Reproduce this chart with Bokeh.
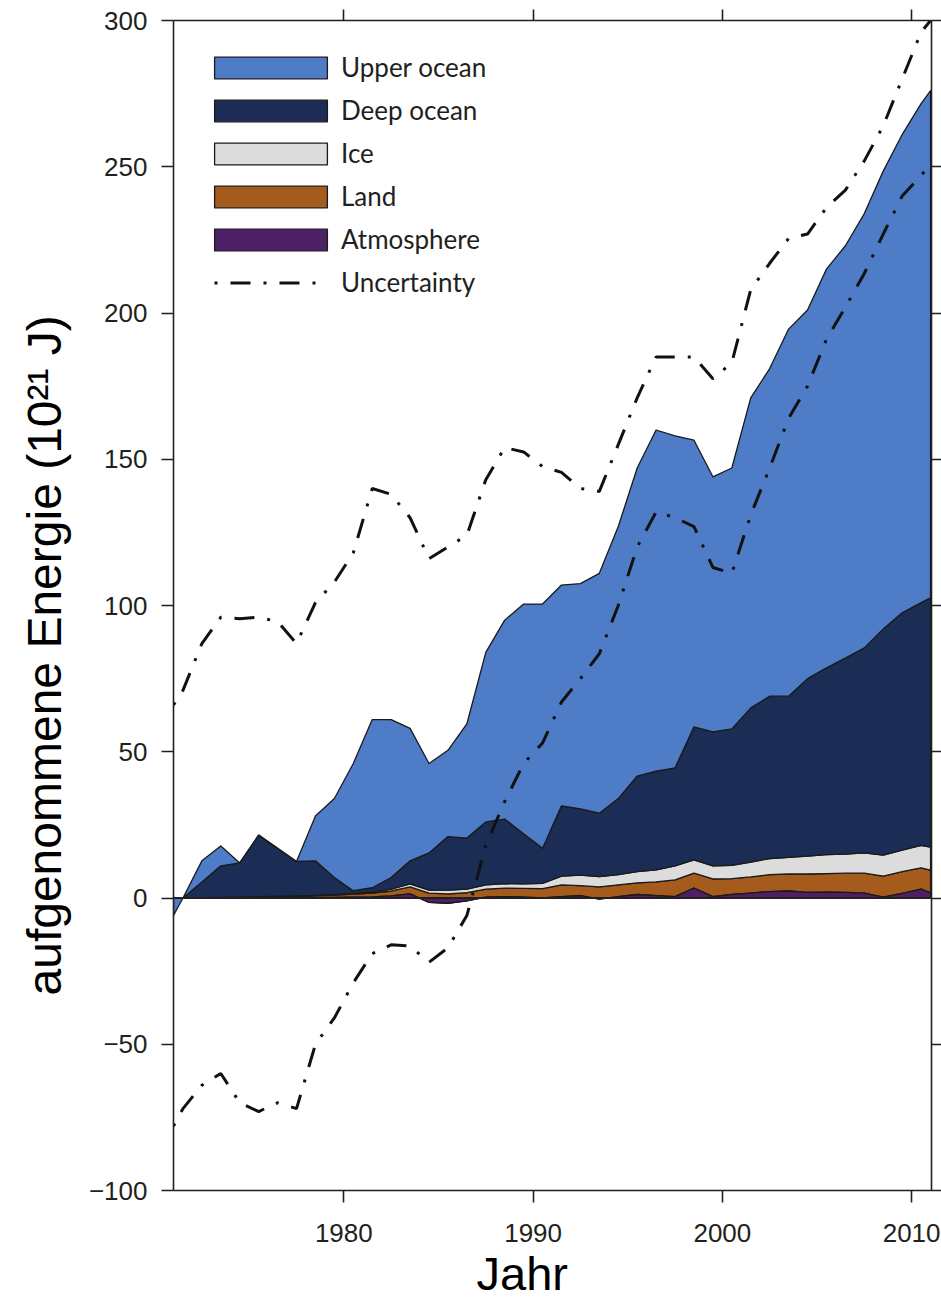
import numpy as np
from bokeh.plotting import figure
from bokeh.models import (Range1d, LinearAxis, FixedTicker, Legend, LegendItem,
                          Span, Title, Grid)
from bokeh.embed import file_html
from bokeh.resources import INLINE

# ---------------- data (10^21 J, relative to 1971) ----------------
years = [1971.0, 1971.5, 1972.5, 1973.5, 1974.5, 1975.5, 1976.5, 1977.5, 1978.5,
         1979.5, 1980.5, 1981.5, 1982.5, 1983.5, 1984.5, 1985.5, 1986.5, 1987.5,
         1988.5, 1989.5, 1990.5, 1991.5, 1992.5, 1993.5, 1994.5, 1995.5, 1996.5,
         1997.5, 1998.5, 1999.5, 2000.5, 2001.5, 2002.5, 2003.5, 2004.5, 2005.5,
         2006.5, 2007.5, 2008.5, 2009.5, 2010.5, 2011.0]

atmosphere = [0, 0, 0.0, 0.0, 0.1, 0.1, 0.1, 0.2, 0.2, 0.2, 0.3, 0.4, 0.7, 1.4,
              -1.5, -1.8, -1.0, 0.3, 0.5, 0.3, 0.0, 0.5, 0.8, -0.4, 0.5, 1.2, 0.8,
              0.5, 3.4, 0.5, 1.2, 1.7, 2.2, 2.4, 1.9, 2.0, 1.9, 1.7, 0.3, 1.6, 3.0, 1.8]

land = [0, 0, 0.1, 0.2, 0.2, 0.3, 0.4, 0.4, 0.6, 0.8, 1.0, 1.3, 1.7, 2.4, 3.2, 3.2,
        2.8, 2.7, 2.9, 3.0, 3.2, 4.0, 3.4, 4.2, 4.0, 4.0, 4.7, 5.7, 5.1, 6.0, 5.4,
        5.5, 5.8, 5.8, 6.3, 6.3, 6.6, 6.8, 7.2, 7.4, 7.3, 7.7]

ice = [0, 0, 0.0, 0.0, 0.0, 0.1, 0.1, 0.1, 0.1, 0.2, 0.3, 0.3, 0.6, 1.0, 1.0, 1.3,
       1.2, 1.5, 1.5, 1.5, 1.8, 3.0, 3.6, 3.5, 3.5, 3.8, 4.1, 4.8, 4.5, 4.5, 4.6,
       5.1, 5.5, 5.7, 6.1, 6.5, 6.5, 6.9, 7.2, 7.4, 7.7, 7.9]

deep_ocean = [0, 0, 5.4, 10.8, 11.7, 21.0, 16.4, 11.8, 11.8, 5.8, 0.9, 1.5, 4.0,
              7.9, 12.7, 18.3, 17.5, 21.5, 22.1, 17.2, 12.0, 24.0, 22.7, 21.7,
              26.0, 32.7, 33.8, 33.5, 45.5, 45.8, 46.6, 52.7, 55.5, 55.1, 60.7,
              63.9, 67.0, 70.1, 77.3, 81.1, 83.0, 85.2]

upper_ocean = [-6, 0, 7.2, 6.8, 0, 0, 0, 0, 15.3, 27.0, 43.5, 57.5, 54.0, 45.3,
               30.6, 29.5, 39.0, 58.0, 68.0, 78.5, 83.5, 75.5, 77.0, 82.0, 93.0,
               105.3, 116.6, 113.5, 98.0, 87.2, 89.2, 106.0, 112.0, 125.5, 126.0,
               136.3, 141.0, 148.5, 156.5, 163.5, 170.6, 173.4]

uncertainty_upper = [66, 71, 87, 96, 95.5, 96, 94.5, 87, 101, 108, 118, 140, 138,
                     130, 116, 120, 124, 143, 154, 152.5, 147.5, 145.5, 140, 139,
                     155, 171, 185, 185, 185, 177.5, 183, 208, 217, 225.5, 227,
                     236, 242, 252, 264, 280, 296, 300]

uncertainty_lower = [-78, -72, -64, -60, -70, -73, -70, -72, -50, -41, -29, -19,
                     -16, -16.4, -22, -17, -6, 18, 33, 46, 53, 67, 75, 83.5, 100,
                     120, 132, 130, 127, 113, 111, 131, 147, 164, 175, 191, 202,
                     213.5, 227, 240, 247, 251]

series_names = ["Atmosphere", "Land", "Ice", "Deep ocean", "Upper ocean"]
series_values = [atmosphere, land, ice, deep_ocean, upper_ocean]
series_colors = ["#4f1f66", "#a45b1c", "#dcdcdc", "#1b2d55", "#4f7cc7"]

x_ticks = [1980, 1990, 2000, 2010]
y_ticks = [-100, -50, 0, 50, 100, 150, 200, 250, 300]

# ---------------- figure ----------------
TICK_FONT = "Liberation Sans"
INK = "#231f20"

p = figure(width=941, height=1297, frame_width=758, frame_height=1170,
           output_backend="svg", toolbar_location=None,
           x_range=Range1d(1971.0, 2011.05), y_range=Range1d(-100, 300),
           x_axis_location=None, y_axis_location=None,
           min_border_left=172, min_border_right=11, min_border_top=20,
           min_border_bottom=107)
p.outline_line_color = None
p.background_fill_color = "white"
for r in p.center:
    if isinstance(r, Grid):
        r.visible = False


def style_axis(ax, ticks, show_labels, tick_out):
    ax.ticker = FixedTicker(ticks=ticks)
    ax.major_tick_out = tick_out
    ax.major_tick_in = 0
    ax.minor_tick_out = 0
    ax.minor_tick_in = 0
    ax.axis_line_color = INK
    ax.axis_line_width = 1.6
    ax.major_tick_line_color = INK
    ax.major_tick_line_width = 1.6
    if show_labels:
        ax.major_label_text_font = TICK_FONT
        ax.major_label_text_font_size = "26px"
        ax.major_label_text_color = INK
    else:
        ax.major_label_overrides = {t: "" for t in ticks}
        ax.major_label_text_font_size = "1px"
        ax.major_label_standoff = 0


left = LinearAxis()
right = LinearAxis()
below = LinearAxis()
above = LinearAxis()
style_axis(left, y_ticks, True, 12)
style_axis(right, y_ticks, False, 11)
style_axis(below, x_ticks, True, 12)
style_axis(above, x_ticks, False, 11)
left.major_label_standoff = 14
left.major_label_overrides = {-100: "\u2212100", -50: "\u221250"}
below.major_label_standoff = 21

p.add_layout(left, "left")
p.add_layout(right, "right")
p.add_layout(below, "below")
p.add_layout(above, "above")

p.add_layout(Title(text="Jahr", align="left", offset=303, text_font_size="47px",
                   text_font="Liberation Sans", text_font_style="normal",
                   text_color="black", standoff=0), "below")
p.add_layout(Title(text="aufgenommene Energie (10\u00b2\u00b9 J)", align="left",
                   offset=195, text_font_size="48px", text_font="Liberation Sans",
                   text_font_style="normal", text_color="black", standoff=30),
             "left")

# ---------------- stacked bands ----------------
yrs = np.array(years, dtype=float)
cum = np.zeros_like(yrs)
bands = []
for name, vals, col in zip(series_names, series_values, series_colors):
    bottom = cum.copy()
    top = cum + np.array(vals, dtype=float)
    bands.append((name, col, np.concatenate([yrs, yrs[::-1]]),
                  np.concatenate([top, bottom[::-1]])))
    cum = top

# atmosphere (bottom layer) drawn last so its negative part stays visible
band_renderers = {}
for name, col, xs, ys in bands[1:] + bands[:1]:
    band_renderers[name] = p.patch(xs, ys, fill_color=col, line_color="#1a1a1a",
                                   line_width=1.3, line_join="round")

p.add_layout(Span(location=0, dimension="width", line_color=INK, line_width=2))

dash = "20 13 3 13"
unc_up = p.line(years, uncertainty_upper, line_color="#111111", line_width=3,
                line_dash=dash, line_dash_offset=33)
unc_lo = p.line(years, uncertainty_lower, line_color="#111111", line_width=3,
                line_dash=dash, line_dash_offset=33)

# ---------------- legend ----------------
common = dict(margin=0, padding=0, label_text_font="Lato",
              label_text_font_size="26px", label_text_color=INK,
              border_line_alpha=0, background_fill_alpha=0,
              label_height=22, glyph_height=27)
items = [LegendItem(label=n, renderers=[band_renderers[n]])
         for n in ["Upper ocean", "Deep ocean", "Ice", "Land", "Atmosphere"]]
legend = Legend(items=items, location=(27, 935), glyph_width=141,
                spacing=11, label_standoff=0, **common)
p.add_layout(legend, "center")

legend2 = Legend(items=[LegendItem(label="Uncertainty", renderers=[unc_up])],
                 location=(41, 892), glyph_width=107, label_standoff=20,
                 **common)
p.add_layout(legend2, "center")

open("out.html", "w").write(file_html(p, INLINE))
